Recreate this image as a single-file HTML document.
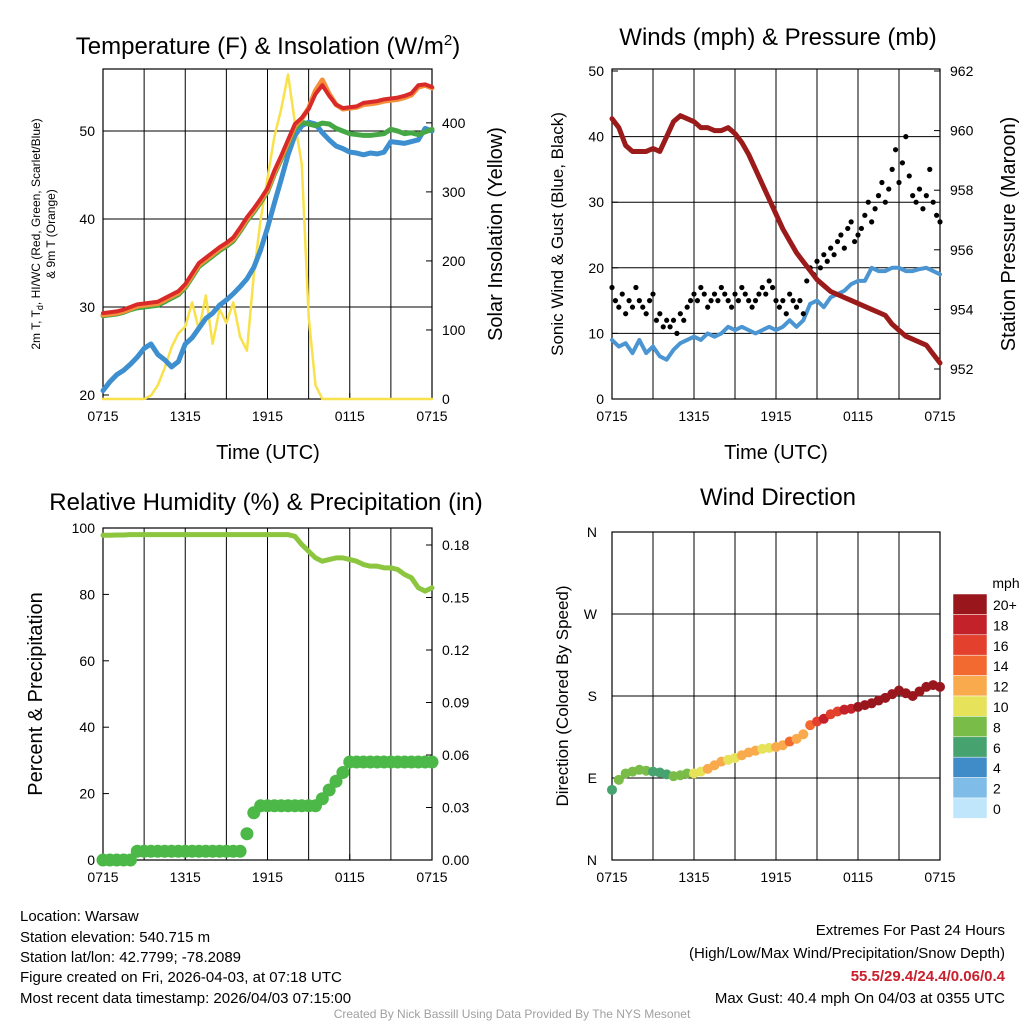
<!DOCTYPE html>
<html><head><meta charset="utf-8"><style>
body{margin:0;background:#fff}
svg{display:block;font-family:"Liberation Sans",sans-serif}
</style></head><body>
<svg id="s" width="1024" height="1024" viewBox="0 0 1024 1024" xmlns="http://www.w3.org/2000/svg">
<rect width="1024" height="1024" fill="#fff"/>
<text x="268" y="54" font-size="24" text-anchor="middle">Temperature (F) &amp; Insolation (W/m<tspan dy="-9" font-size="15">2</tspan><tspan dy="9">)</tspan></text>
<text x="778" y="45" font-size="24" text-anchor="middle">Winds (mph) &amp; Pressure (mb)</text>
<text x="266" y="510" font-size="24" text-anchor="middle">Relative Humidity (%) &amp; Precipitation (in)</text>
<text x="778" y="505" font-size="24" text-anchor="middle">Wind Direction</text>
<text x="268" y="459" font-size="20" text-anchor="middle">Time (UTC)</text>
<text x="776" y="459" font-size="20" text-anchor="middle">Time (UTC)</text>
<text transform="translate(40,234) rotate(-90)" font-size="12" text-anchor="middle">2m T, T<tspan dy="3" font-size="9">d</tspan><tspan dy="-3">, HI/WC (Red, Green, Scarlet/Blue)</tspan></text>
<text transform="translate(55,234) rotate(-90)" font-size="12" text-anchor="middle">&amp; 9m T (Orange)</text>
<text transform="translate(502,234) rotate(-90)" font-size="20" text-anchor="middle">Solar Insolation (Yellow)</text>
<text transform="translate(563,234) rotate(-90)" font-size="17" text-anchor="middle">Sonic Wind &amp; Gust (Blue, Black)</text>
<text transform="translate(1015,234) rotate(-90)" font-size="20" text-anchor="middle">Station Pressure (Maroon)</text>
<text transform="translate(42,694) rotate(-90)" font-size="20" text-anchor="middle">Percent &amp; Precipitation</text>
<text transform="translate(568,696) rotate(-90)" font-size="17" text-anchor="middle">Direction (Colored By Speed)</text>
<g font-size="15">
<text x="20" y="921">Location: Warsaw</text>
<text x="20" y="942">Station elevation: 540.715 m</text>
<text x="20" y="962">Station lat/lon: 42.7799; -78.2089</text>
<text x="20" y="982">Figure created on Fri, 2026-04-03, at 07:18 UTC</text>
<text x="20" y="1003">Most recent data timestamp: 2026/04/03 07:15:00</text>
</g>
<g font-size="15" text-anchor="end">
<text x="1005" y="935">Extremes For Past 24 Hours</text>
<text x="1005" y="958">(High/Low/Max Wind/Precipitation/Snow Depth)</text>
<text x="1005" y="981" fill="#c8202c" font-weight="bold">55.5/29.4/24.4/0.06/0.4</text>
<text x="1005" y="1003">Max Gust: 40.4 mph On 04/03 at 0355 UTC</text>
</g>
<text x="512" y="1018" font-size="12" fill="#a0a0a0" text-anchor="middle">Created By Nick Bassill Using Data Provided By The NYS Mesonet</text>
</svg>
<script>
const xTicks=["0715","1315","1915","0115","0715"];
const tempRed=[29.3,29.4,29.5,29.7,30.0,30.3,30.4,30.5,30.6,31.0,31.4,31.8,32.6,33.8,35.0,35.6,36.2,36.8,37.3,37.9,39.0,40.2,41.2,42.3,43.5,45.5,47.2,49.0,50.8,51.5,52.5,54.2,55.2,54.0,53.0,52.6,52.7,52.8,53.2,53.3,53.4,53.6,53.7,53.8,54.0,54.3,55.2,55.3,55.0];
const tempOrange=[29.1,29.2,29.3,29.5,29.8,30.1,30.2,30.3,30.4,30.8,31.2,31.6,32.4,33.6,34.8,35.4,36.0,36.6,37.1,37.7,38.8,40.0,41.0,42.1,43.3,45.3,47.0,48.8,50.6,51.4,52.6,54.6,55.8,54.2,53.0,52.5,52.6,52.7,53.0,53.1,53.2,53.4,53.5,53.6,53.8,54.1,55.0,55.2,54.9];
const tempGreen=[29.0,29.1,29.2,29.4,29.7,29.9,30.0,30.1,30.2,30.6,31.0,31.4,32.2,33.4,34.6,35.2,35.8,36.4,36.9,37.5,38.6,39.8,40.8,41.9,43.1,45.1,46.8,48.6,50.3,51.0,50.8,50.6,50.9,50.8,50.3,50.0,49.7,49.6,49.5,49.5,49.6,49.7,50.2,50.0,49.7,49.8,49.6,49.9,50.2];
const tempBlue=[20.5,21.5,22.3,22.8,23.5,24.3,25.3,25.8,24.6,24.0,23.2,23.8,25.8,26.5,27.6,28.7,29.3,30.2,30.8,31.5,32.3,33.2,34.5,36.5,39.0,41.8,44.5,47.3,49.5,50.6,51.0,50.8,49.8,49.0,48.3,48.0,47.6,47.5,47.3,47.5,47.4,47.6,48.8,48.7,48.6,48.8,49.0,50.3,50.0];
const insolation=[0,0,0,0,0,0,0,5,20,45,75,95,105,140,100,150,80,130,110,140,90,70,180,260,320,380,420,470,400,340,120,20,0,0,0,0,0,0,0,0,0,0,0,0,0,0,0,0,0];
const pressure=[960.4,960.1,959.5,959.3,959.3,959.3,959.4,959.3,959.8,960.3,960.5,960.4,960.3,960.1,960.1,960.0,960.0,960.1,959.9,959.6,959.2,958.7,958.2,957.7,957.2,956.7,956.3,955.9,955.6,955.3,955.0,954.8,954.6,954.5,954.4,954.3,954.2,954.1,954.0,953.9,953.8,953.5,953.3,953.1,953.0,952.9,952.8,952.5,952.2];
const sonicWind=[9,8,8.5,7,9,7,8,6.5,6,7.5,8.5,9,9.5,9,10,9.5,10,11,10.5,11,10.5,10,10.5,11,10.5,11,12,11,12,14.5,15,14,15.5,16,16.5,17.5,18,18,20,19.5,19.5,20,20,19.5,19.5,19.8,20,19.5,19];
const gust=[17,15,14,16,13,15,14,17,15,14,13,15,16,12,13,11,12,11,12,10,13,12,14,15,16,15,17,16,14,15,16,15,17,16,15,14,16,15,17,16,15,14,15,16,17,16,18,17,15,14,15,13,16,15,14,15,13,18,20,19,21,20,22,21,23,22,24,25,23,26,27,24,25,26,28,30,27,29,31,33,30,32,35,38,33,36,40,34,31,30,32,29,31,35,30,28,27];
const rh=[97.8,97.8,97.9,97.9,98,98,98,98,98,98,98,98,98,98,98,98,98,98,98,98,98,98,98,98,98,98,98,98,97.5,95,93,91,90,90.5,91,91,90.5,90,89,88.5,88.5,88,88,87.5,86,85,82,81,82];
const precip=[0,0,0,0,0,0.005,0.005,0.005,0.005,0.005,0.005,0.005,0.005,0.005,0.005,0.005,0.005,0.005,0.005,0.005,0.005,0.015,0.027,0.031,0.031,0.031,0.031,0.031,0.031,0.031,0.031,0.031,0.035,0.04,0.045,0.05,0.056,0.056,0.056,0.056,0.056,0.056,0.056,0.056,0.056,0.056,0.056,0.056,0.056];
const direction=[77,88,95,97,99,98,97,96,94,92,93,95,95,97,100,104,108,110,112,115,118,120,122,123,124,126,130,133,138,148,152,155,160,163,165,166,168,170,172,175,178,182,186,183,180,185,190,192,190];
const speed=[6,7,8,7,8,7,6,5,6,7,8,8,9,10,11,12,11,10,10,11,12,11,10,10,11,12,13,11,12,14,16,17,16,15,17,18,19,20,21,20,21,22,20,20,21,22,21,20,21];
const speedLabels=["20+","18","16","14","12","10","8","6","4","2","0"];
const speedColors=["#bfe6fa","#7fbde8","#3f8cc8","#46a36f","#79bd48","#e6e25a","#f8aa4c","#f26a30","#e3402d","#c4222a","#99161d"];
const tempTicks=[20,30,40,50], insTicks=[0,100,200,300,400], windTicks=[0,10,20,30,40,50], presTicks=[952,954,956,958,960,962];
const rhTicks=[0,20,40,60,80,100], prTicks=[0,0.03,0.06,0.09,0.12,0.15,0.18], dirTicks=["N","E","S","W","N"];

const S=document.getElementById('s'),NS="http://www.w3.org/2000/svg";
function mk(tag,a,parent){const e=document.createElementNS(NS,tag);for(const k in a)e.setAttribute(k,a[k]);(parent||S).appendChild(e);return e;}
function lin(d0,d1,r0,r1){return v=>r0+(v-d0)/(d1-d0)*(r1-r0);}
function panel(name,x0,x1,y0,y1){
  const g=mk('g',{});
  
  
  for(let h=3;h<24;h+=3){const x=x0+(x1-x0)*h/24;const l=mk('line',{x1:x,x2:x,y1:y0,y2:y1,stroke:'#000','stroke-width':1},g);
    
    }
  xTicks.forEach((t,i)=>{const x=x0+(x1-x0)*i/4;const tx=mk('text',{x:x,y:y1+22,'font-size':14,'text-anchor':'middle'},g);tx.textContent=t;
    
    
    mk('line',{x1:x,x2:x,y1:y1,y2:y1-6,stroke:'#000'},g);});
  const b=mk('rect',{x:x0,y:y0,width:x1-x0,height:y1-y0,fill:'none',stroke:'#000','stroke-width':1.2},g);
  
  
  return g;
}
function hgrid(g,x0,x1,ys){ys.forEach(y=>mk('line',{x1:x0,x2:x1,y1:y,y2:y,stroke:'#000','stroke-width':1},g));}
function yTicks(g,ticks,sc,x,side,fmt,grid){ticks.forEach(v=>{const y=sc(v);const t=mk('text',{x:side<0?x-8:x+10,y:y+5,'font-size':14,'text-anchor':side<0?'end':'start'},g);t.textContent=fmt?fmt(v):v;
  
  
  mk('line',{x1:x,x2:x+(side<0?6:-6),y1:y,y2:y,stroke:'#000'},g);});}
function line(g,arr,xs,ys,color,w,name,n){const pts=arr.map((v,i)=>xs(i*24/(n||arr.length-1))+','+ys(v)).join(' ');
  const p=mk('polyline',{points:pts,fill:'none',stroke:color,'stroke-width':w,'stroke-linejoin':'round','stroke-linecap':'round'},g);
  
  return p;}

// Panel 1
{const X0=103,X1=432,Y0=69,Y1=399;const g=panel('temperature-panel',X0,X1,Y0,Y1);
 const xs=lin(0,24,X0,X1),ty=lin(20,57.05,395,Y0),iy=lin(0,478,Y1,Y0);
 hgrid(g,X0,X1,[30,40,50].map(ty));
 yTicks(g,tempTicks,ty,X0,-1);yTicks(g,insTicks,iy,X1,1);
 line(g,insolation,xs,iy,'#f9e14b',2.5,'insolation-line');
 line(g,tempBlue,xs,ty,'#3d8fcf',5,'windchill-line');
 line(g,tempGreen,xs,ty,'#45a845',5,'dewpoint-line');
 line(g,tempOrange,xs,ty,'#f58f3a',5,'temp-9m-line');
 line(g,tempRed,xs,ty,'#d92a2a',4,'temp-2m-line');}
// Panel 2
{const X0=612,X1=940,Y0=69,Y1=399;const g=panel('wind-panel',X0,X1,Y0,Y1);
 const xs=lin(0,24,X0,X1),wy=lin(0,50,Y1,71),py=lin(952,962,369,71);
 hgrid(g,X0,X1,[10,20,30,40].map(wy));
 yTicks(g,windTicks,wy,X0,-1);yTicks(g,presTicks,py,X1,1);
 line(g,sonicWind,xs,wy,'#4a95d2',4,'sonic-wind-line');
 gust.forEach((v,i)=>{const c=mk('circle',{cx:xs(i/4),cy:wy(v),r:2.6,fill:'#000'},g);
  
  });
 line(g,pressure,xs,py,'#9b1b1b',5,'pressure-line');}
// Panel 3
{const X0=103,X1=432,Y0=528,Y1=860;const g=panel('humidity-panel',X0,X1,Y0,Y1);
 const xs=lin(0,24,X0,X1),ry=lin(0,100,Y1,Y0),py=lin(0,0.18,Y1,545);
 yTicks(g,rhTicks,ry,X0,-1);yTicks(g,prTicks,py,X1,1,v=>v.toFixed(2));
 line(g,rh,xs,ry,'#8cc63f',5,'rh-line');
 precip.forEach((v,i)=>{const c=mk('circle',{cx:xs(i/2),cy:py(v),r:6.5,fill:'#4cb847'},g);
  
  });}
// Panel 4
{const X0=612,X1=940,Y0=532,Y1=860;const g=panel('direction-panel',X0,X1,Y0,Y1);
 const xs=lin(0,24,X0,X1),dy=lin(0,360,Y1,Y0);
 hgrid(g,X0,X1,[90,180,270].map(dy));
 dirTicks.forEach((t,i)=>{const y=dy(i*90);const tx=mk('text',{x:X0-15,y:y+5,'font-size':14,'text-anchor':'end'},g);tx.textContent=t;
  
  
  mk('line',{x1:X0,x2:X0+6,y1:y,y2:y,stroke:'#000'},g);});
 direction.forEach((v,i)=>{const k=Math.min(10,Math.round(speed[i]/2));
  const c=mk('circle',{cx:xs(i/2),cy:dy(v),r:5,fill:speedColors[k]},g);
  
  });
 const lg=mk('g',{});
 
 
 const u=mk('text',{x:1006,y:588,'font-size':14,'text-anchor':'middle'},lg);u.textContent='mph';
 speedLabels.forEach((l,i)=>{const y=594+i*20.4;
  const r=mk('rect',{x:953,y:y,width:34,height:20.4,fill:speedColors[10-i],stroke:'#fff','stroke-width':0.5},lg);
  
  
  const t=mk('text',{x:993,y:y+16,'font-size':14},lg);t.textContent=l;});}
</script>
</body></html>
